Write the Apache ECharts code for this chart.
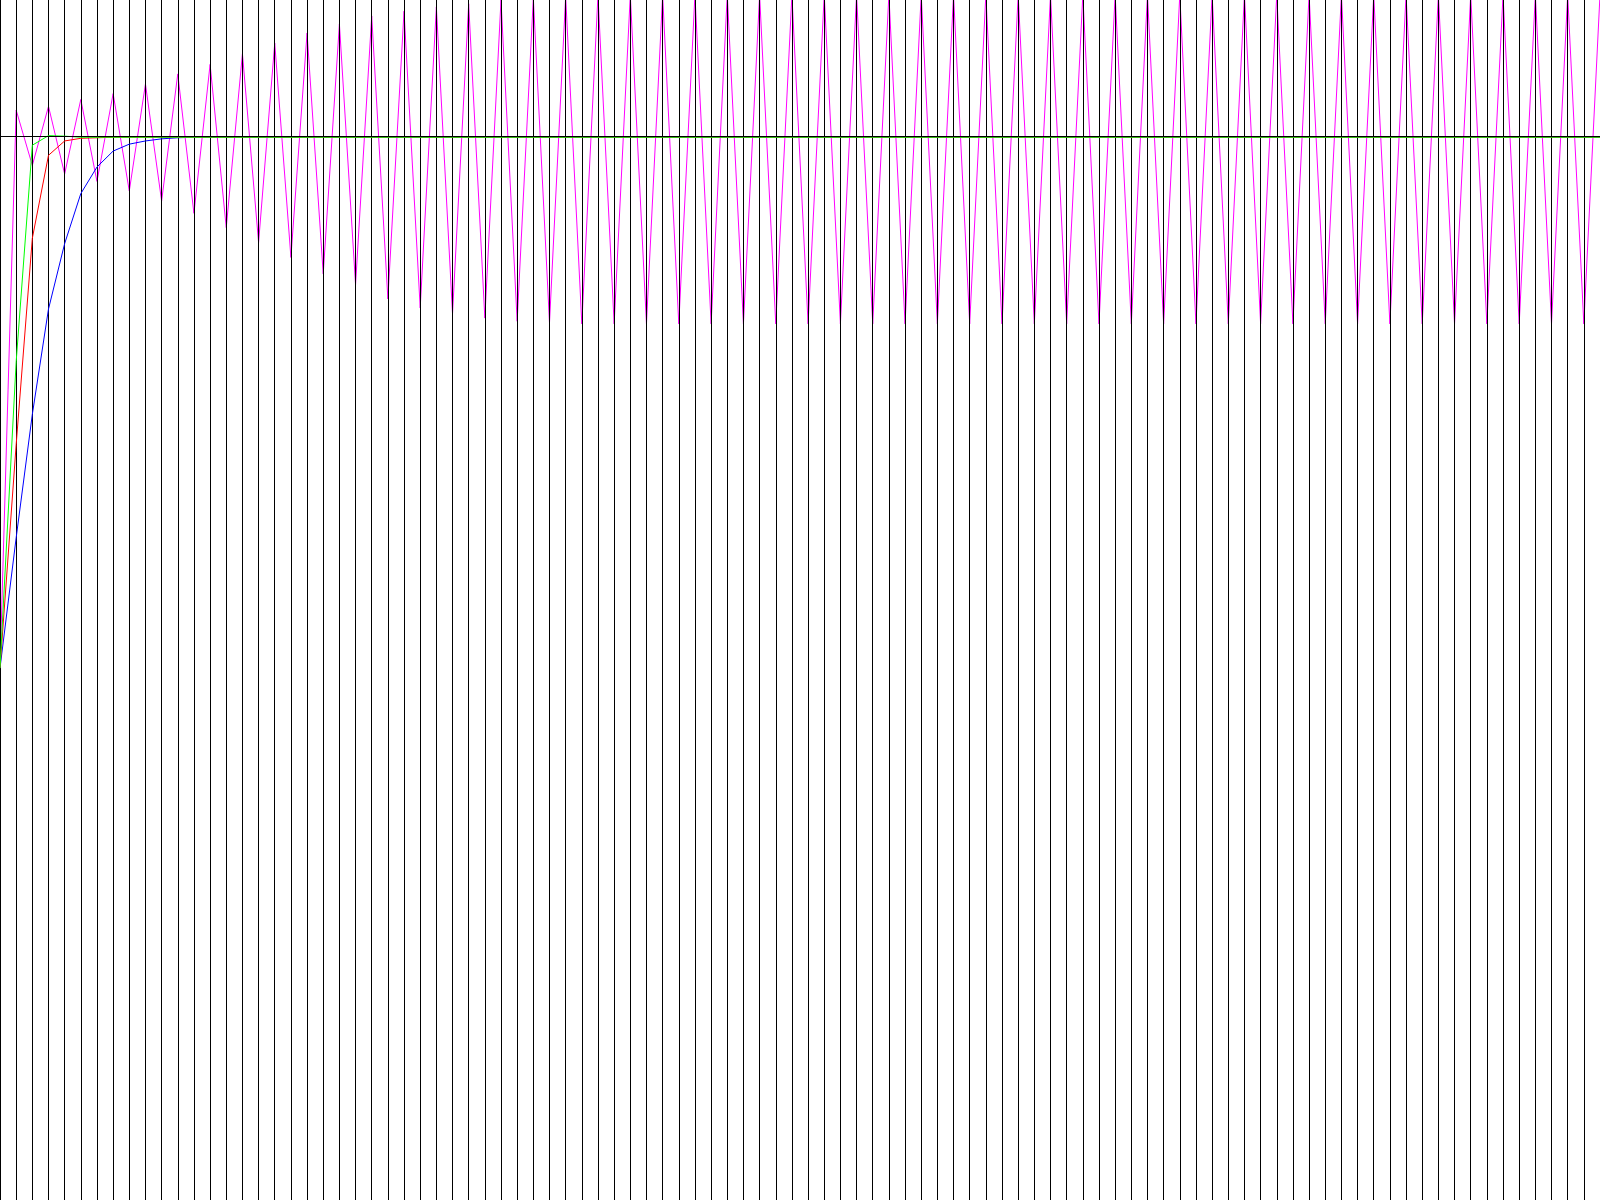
<!DOCTYPE html>
<html>
<head>
<meta charset="utf-8">
<script src="https://cdn.jsdelivr.net/npm/echarts@6/dist/echarts.min.js"></script>
<style>
html,body{margin:0;padding:0;background:#fff;}
#chart{width:1600px;height:1200px;}
</style>
</head>
<body>
<div id="chart"></div>
<script>
// sample index 0..99
const steps = [0,1,2,3,4,5,6,7,8,9,10,11,12,13,14,15,16,17,18,19,20,21,22,23,24,25,26,27,28,29,30,31,32,33,34,35,36,37,38,39,40,41,42,43,44,45,46,47,48,49,50,51,52,53,54,55,56,57,58,59,60,61,62,63,64,65,66,67,68,69,70,71,72,73,74,75,76,77,78,79,80,81,82,83,84,85,86,87,88,89,90,91,92,93,94,95,96,97,98,99];

const target = 1;

const magentaValues = [0,1.049,0.945,1.056,0.929,1.069,0.915,1.080,0.897,1.098,
  0.878,1.117,0.855,1.135,0.828,1.155,0.800,1.175,0.772,1.194,
  0.741,1.211,0.721,1.226,0.694,1.235,0.677,1.243,0.666,1.249,
  0.658,1.256,0.652,1.260,0.649,1.263,0.647,1.265,0.647,1.266,
  0.647,1.266,0.647,1.266,0.647,1.266,0.647,1.266,0.647,1.266,
  0.647,1.266,0.647,1.266,0.647,1.266,0.647,1.266,0.647,1.266,
  0.647,1.266,0.647,1.266,0.647,1.266,0.647,1.266,0.647,1.266,
  0.647,1.266,0.647,1.266,0.647,1.266,0.647,1.266,0.647,1.266,
  0.647,1.266,0.647,1.266,0.647,1.266,0.647,1.266,0.647,1.266,
  0.647,1.266,0.647,1.266,0.647,1.266,0.647,1.266,0.647,1.266];

const blueValues = [0,0.245,0.477,0.675,0.798,0.892,0.942,0.972,0.985,0.991,
  0.995,0.997,0.998,0.998,0.998,0.998,0.998,0.998,0.998,0.998,
  0.998,0.998,0.998,0.998,0.998,0.998,0.998,0.998,0.998,0.998,
  0.998,0.998,0.998,0.998,0.998,0.998,0.998,0.998,0.998,0.998,
  0.998,0.998,0.998,0.998,0.998,0.998,0.998,0.998,0.998,0.998,
  0.998,0.998,0.998,0.998,0.998,0.998,0.998,0.998,0.998,0.998,
  0.998,0.998,0.998,0.998,0.998,0.998,0.998,0.998,0.998,0.998,
  0.998,0.998,0.998,0.998,0.998,0.998,0.998,0.998,0.998,0.998,
  0.998,0.998,0.998,0.998,0.998,0.998,0.998,0.998,0.998,0.998,
  0.998,0.998,0.998,0.998,0.998,0.998,0.998,0.998,0.998,0.998];

const redValues = [0,0.420,0.808,0.964,0.991,0.996,0.997,0.998,0.998,0.998,
  0.998,0.998,0.998,0.998,0.998,0.998,0.998,0.998,0.998,0.998,
  0.998,0.998,0.998,0.998,0.998,0.998,0.998,0.998,0.998,0.998,
  0.998,0.998,0.998,0.998,0.998,0.998,0.998,0.998,0.998,0.998,
  0.998,0.998,0.998,0.998,0.998,0.998,0.998,0.998,0.998,0.998,
  0.998,0.998,0.998,0.998,0.998,0.998,0.998,0.998,0.998,0.998,
  0.998,0.998,0.998,0.998,0.998,0.998,0.998,0.998,0.998,0.998,
  0.998,0.998,0.998,0.998,0.998,0.998,0.998,0.998,0.998,0.998,
  0.998,0.998,0.998,0.998,0.998,0.998,0.998,0.998,0.998,0.998,
  0.998,0.998,0.998,0.998,0.998,0.998,0.998,0.998,0.998,0.998];

const greenValues = [0,0.576,0.983,1.001,1.000,0.998,0.998,0.998,0.998,0.998,
  0.998,0.998,0.998,0.998,0.998,0.998,0.998,0.998,0.998,0.998,
  0.998,0.998,0.998,0.998,0.998,0.998,0.998,0.998,0.998,0.998,
  0.998,0.998,0.998,0.998,0.998,0.998,0.998,0.998,0.998,0.998,
  0.998,0.998,0.998,0.998,0.998,0.998,0.998,0.998,0.998,0.998,
  0.998,0.998,0.998,0.998,0.998,0.998,0.998,0.998,0.998,0.998,
  0.998,0.998,0.998,0.998,0.998,0.998,0.998,0.998,0.998,0.998,
  0.998,0.998,0.998,0.998,0.998,0.998,0.998,0.998,0.998,0.998,
  0.998,0.998,0.998,0.998,0.998,0.998,0.998,0.998,0.998,0.998,
  0.998,0.998,0.998,0.998,0.998,0.998,0.998,0.998,0.998,0.998];

function pairs(vals){ return steps.map((s,i)=>[s, vals[i]]); }

const chart = echarts.init(document.getElementById('chart'), null, {renderer:'canvas'});
chart.setOption({
  animation: false,
  backgroundColor: '#ffffff',
  grid: {left: 0, right: 0, top: 0, bottom: 0, containLabel: false},
  xAxis: {
    type: 'value', min: 0, max: 99, interval: 1, z: 1,
    axisLine: {show: false}, axisTick: {show: false}, axisLabel: {show: false},
    splitLine: {show: true, showMaxLine: false, lineStyle: {color: '#000000', width: 1}}
  },
  yAxis: {
    type: 'value', min: -1, max: 1.256,
    axisLine: {show: false}, axisTick: {show: false}, axisLabel: {show: false},
    splitLine: {show: false}
  },
  series: [
    {type: 'line', name: 'magenta', z: 0, data: pairs(magentaValues), showSymbol: false, symbol: 'none',
     lineStyle: {color: '#ff00ff', width: 1}},
    {type: 'line', name: 'blue', z: 2, data: pairs(blueValues), showSymbol: false, symbol: 'none',
     lineStyle: {color: '#0000ff', width: 1}},
    {type: 'line', name: 'red', z: 3, data: pairs(redValues), showSymbol: false, symbol: 'none',
     lineStyle: {color: '#ff0000', width: 1}},
    {type: 'line', name: 'green', z: 4, data: pairs(greenValues), showSymbol: false, symbol: 'none',
     lineStyle: {color: '#00ff00', width: 1},
     markLine: {silent: true, symbol: 'none', label: {show: false},
       lineStyle: {color: '#000000', width: 1, type: 'solid'},
       data: [{yAxis: target}]}}
  ]
});
</script>
</body>
</html>
